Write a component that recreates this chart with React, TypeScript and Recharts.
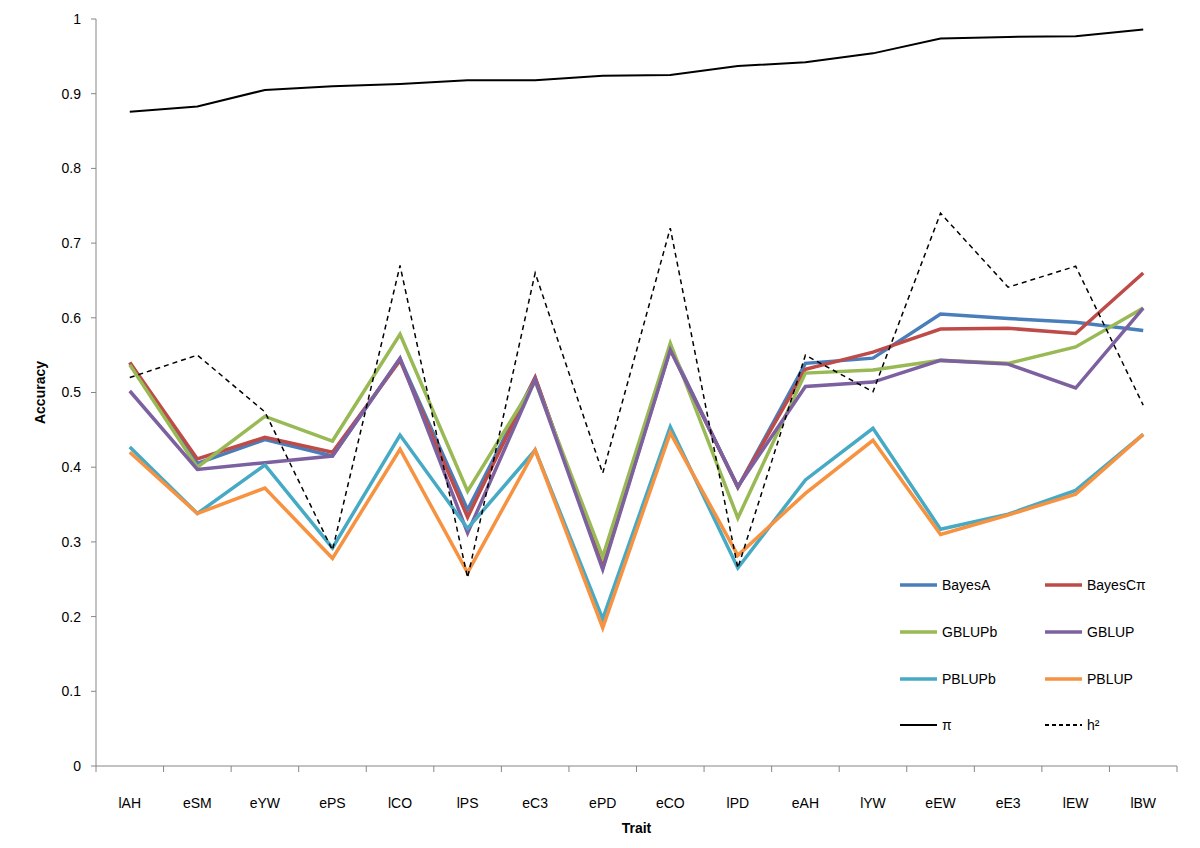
import React from 'react';
import { LineChart, Line, XAxis, YAxis, Legend } from 'recharts';

const traits = ['lAH', 'eSM', 'eYW', 'ePS', 'lCO', 'lPS', 'eC3', 'ePD', 'eCO', 'lPD', 'eAH', 'lYW', 'eEW', 'eE3', 'lEW', 'lBW'];
const bayesA = [0.54, 0.405, 0.437, 0.415, 0.545, 0.343, 0.52, 0.266, 0.56, 0.373, 0.539, 0.546, 0.605, 0.599, 0.594, 0.583];
const bayesCpi = [0.54, 0.411, 0.44, 0.42, 0.543, 0.333, 0.52, 0.266, 0.558, 0.373, 0.531, 0.554, 0.585, 0.586, 0.579, 0.66];
const gblupb = [0.537, 0.4, 0.468, 0.435, 0.578, 0.368, 0.515, 0.28, 0.566, 0.332, 0.526, 0.53, 0.543, 0.539, 0.561, 0.613];
const gblup = [0.502, 0.397, 0.406, 0.415, 0.546, 0.312, 0.517, 0.263, 0.557, 0.374, 0.508, 0.514, 0.543, 0.538, 0.506, 0.613];
const pblupb = [0.427, 0.338, 0.403, 0.292, 0.443, 0.318, 0.423, 0.197, 0.454, 0.265, 0.383, 0.452, 0.317, 0.337, 0.369, 0.444];
const pblup = [0.42, 0.338, 0.372, 0.278, 0.424, 0.259, 0.423, 0.185, 0.446, 0.282, 0.365, 0.436, 0.31, 0.336, 0.364, 0.444];
const piVals = [0.876, 0.883, 0.905, 0.91, 0.913, 0.918, 0.918, 0.924, 0.925, 0.937, 0.942, 0.954, 0.974, 0.976, 0.977, 0.986];
const h2 = [0.52, 0.55, 0.474, 0.289, 0.67, 0.252, 0.66, 0.392, 0.72, 0.265, 0.55, 0.501, 0.74, 0.641, 0.669, 0.483];
const yTicks = [0, 0.1, 0.2, 0.3, 0.4, 0.5, 0.6, 0.7, 0.8, 0.9, 1];

const series = [
  { key: 'BayesA', values: bayesA, color: '#4A7EBB', width: 3.5, dash: undefined as string | undefined },
  { key: 'BayesCπ', values: bayesCpi, color: '#BE4B48', width: 3.5, dash: undefined },
  { key: 'GBLUPb', values: gblupb, color: '#98B954', width: 3.5, dash: undefined },
  { key: 'GBLUP', values: gblup, color: '#7D60A0', width: 3.5, dash: undefined },
  { key: 'PBLUPb', values: pblupb, color: '#46AAC5', width: 3.5, dash: undefined },
  { key: 'PBLUP', values: pblup, color: '#F69240', width: 3.5, dash: undefined },
  { key: 'π', values: piVals, color: '#000000', width: 2, dash: undefined },
  { key: 'h²', values: h2, color: '#000000', width: 1.5, dash: '5 4' },
];

const data = traits.map((t, i) => {
  const row: Record<string, string | number> = { trait: t };
  series.forEach((s) => {
    row[s.key] = s.values[i];
  });
  return row;
});

const FONT = '"Liberation Sans", Arial, sans-serif';
const AXIS_GRAY = '#868686';

const XTick = (props: any) => {
  const { x, y, payload, index, visibleTicksCount } = props;
  const off = payload && payload.offset ? payload.offset : 0;
  const top = y - 6;
  return (
    <g>
      <line x1={x - off} x2={x - off} y1={top} y2={top + 6} stroke={AXIS_GRAY} strokeWidth={1} />
      {index === visibleTicksCount - 1 && (
        <line x1={x + off} x2={x + off} y1={top} y2={top + 6} stroke={AXIS_GRAY} strokeWidth={1} />
      )}
      <text x={x} y={top + 42} textAnchor="middle" fontFamily={FONT} fontSize={14} fill="#000">
        {payload.value}
      </text>
    </g>
  );
};

const LegendContent = (props: any) => {
  const payload = (props.payload || []) as any[];
  const ordered = series.filter((s) => payload.some((p: any) => p.value === s.key));
  return (
    <div style={{ display: 'grid', gridTemplateColumns: '145px 145px', rowGap: 0, fontFamily: FONT, fontSize: 14 }}>
      {ordered.map((s) => (
        <div key={s.key} style={{ display: 'flex', alignItems: 'center', height: 46.7 }}>
          <svg width={37} height={10} style={{ marginRight: 5 }}>
            <line x1={0} x2={37} y1={5} y2={5} stroke={s.color}
              strokeWidth={s.width > 3 ? 3.5 : 2} strokeDasharray={s.dash ? '4 3' : undefined} />
          </svg>
          <span style={{ color: '#000' }}>{s.key}</span>
        </div>
      ))}
    </div>
  );
};

export default function App() {
  return (
    <div style={{ position: 'absolute', left: 0, top: 0, width: 1200, height: 848, background: '#fff' }}>
      <LineChart width={1200} height={848} data={data} margin={{ top: 19, right: 23, left: 0, bottom: 15 }}>
        <XAxis
          dataKey="trait"
          type="category"
          scale="band"
          height={67}
          stroke={AXIS_GRAY}
          tickLine={false}
          tickSize={6}
          tickMargin={0}
          tick={<XTick />}
          interval={0}
          label={{ value: 'Trait', position: 'insideBottom', offset: 0, fontFamily: FONT, fontSize: 14, fontWeight: 'bold', fill: '#000' }}
        />
        <YAxis
          type="number"
          domain={[0, 1]}
          ticks={yTicks}
          interval={0}
          width={96}
          stroke={AXIS_GRAY}
          tickSize={5}
          tickMargin={10}
          tick={{ fontFamily: FONT, fontSize: 14, fill: '#000' }}
          label={{ value: 'Accuracy', angle: -90, position: 'center', dx: -8, fontFamily: FONT, fontSize: 14, fontWeight: 'bold', fill: '#000' }}
        />
        {series.map((s) => (
          <Line
            key={s.key}
            type="linear"
            dataKey={s.key}
            name={s.key}
            stroke={s.color}
            strokeWidth={s.width}
            strokeDasharray={s.dash}
            dot={false}
            activeDot={false}
            isAnimationActive={false}
          />
        ))}
        <Legend
          layout="vertical"
          align="center"
          verticalAlign="middle"
          content={<LegendContent />}
          wrapperStyle={{ position: 'absolute', left: 900, top: 562, width: 300 }}
        />
      </LineChart>
    </div>
  );
}
